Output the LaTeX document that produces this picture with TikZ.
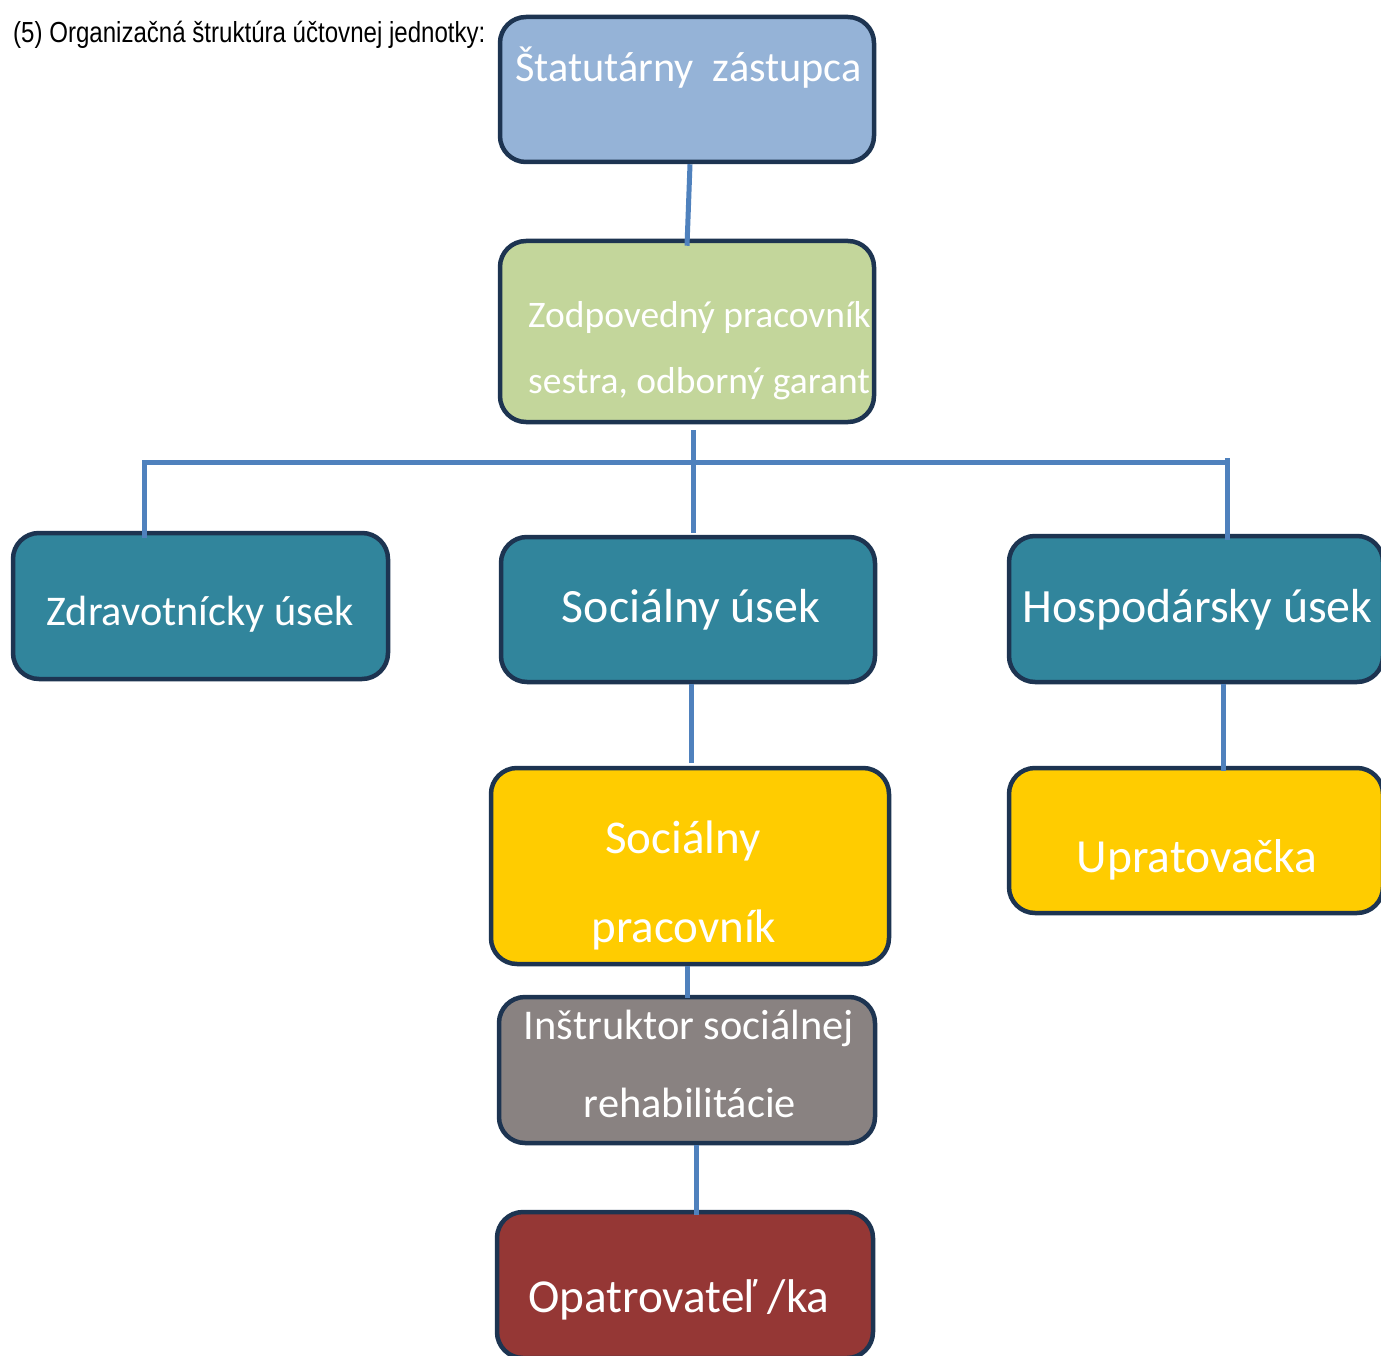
\documentclass[tikz,border=0pt]{standalone}
\usepackage{fontspec}
\setmainfont{Carlito}
\newfontfamily\titlefont[FakeStretch=0.83]{Liberation Sans}
\usetikzlibrary{calc}
\definecolor{bordc}{HTML}{1D3451}
\definecolor{linec}{HTML}{4F81BD}
\definecolor{cstat}{HTML}{95B3D7}
\definecolor{czod}{HTML}{C3D69B}
\definecolor{cteal}{HTML}{31859C}
\definecolor{cyel}{HTML}{FFCC00}
\definecolor{cgray}{HTML}{898281}
\definecolor{cred}{HTML}{953735}
\begin{document}
\begin{tikzpicture}[x=1pt,y=-1pt,
  box/.style={draw=bordc, line width=4.5pt, rounded corners=26pt, inner sep=0pt, anchor=center},
  lbl/.style={text=white, inner sep=0pt, anchor=base},
  lblw/.style={text=white, inner sep=0pt, anchor=base west},
  conn/.style={draw=linec, line width=5pt}]
\useasboundingbox (0,0) rectangle (1381,1356);
\clip (0,0) rectangle (1381,1356);
\fill[white] (0,0) rectangle (1381,1356);

% title
\node[anchor=base west, inner sep=0pt, font=\titlefont\fontsize{29}{34}\selectfont] (title) at (13,43) {(5) Organizačná štruktúra účtovnej jednotky:};

% boxes
\node[box, fill=cstat, minimum width=374pt, minimum height=145pt] (stat) at (687,89.5) {};
\node[box, fill=czod, minimum width=374pt, minimum height=181pt] (zod) at (687,331.5) {};
\node[box, fill=cteal, minimum width=375pt, minimum height=146pt] (zdr) at (200.5,606) {};
\node[box, fill=cteal, minimum width=374pt, minimum height=145pt] (soc) at (688,609.5) {};
\node[box, fill=cteal, minimum width=374pt, minimum height=146pt] (hosp) at (1196,609) {};
\node[box, fill=cyel, minimum width=398pt, minimum height=196pt] (socp) at (690,866) {};
\node[box, fill=cyel, minimum width=374pt, minimum height=145pt] (uprat) at (1196,840.5) {};
\node[box, fill=cgray, minimum width=376pt, minimum height=146pt] (instr) at (687,1070) {};
\node[box, fill=cred, minimum width=376pt, minimum height=146pt] (opat) at (685,1285) {};

% labels
\node[lbl, font=\fontsize{42.3}{50}\selectfont] (tstat) at (688.5,82) {Štatutárny~~zástupca};
\node[lblw, font=\fontsize{37.5}{44}\selectfont] (tzod1) at (528,327) {Zodpovedný pracovník};
\node[lblw, font=\fontsize{37.5}{44}\selectfont] (tzod2) at (528,393) {sestra, odborný garant};
\node[lbl, font=\fontsize{42.3}{50}\selectfont] (tzdr) at (200,625) {Zdravotnícky úsek};
\node[lbl, font=\fontsize{47.8}{56}\selectfont] (tsoc) at (691,622) {Sociálny úsek};
\node[lbl, font=\fontsize{47.8}{56}\selectfont] (thosp) at (1197.5,622) {Hospodársky úsek};
\node[lbl, font=\fontsize{47}{56}\selectfont] (tsocp1) at (683,853) {Sociálny};
\node[lbl, font=\fontsize{47}{56}\selectfont] (tsocp2) at (684,942) {pracovník};
\node[lbl, font=\fontsize{47.5}{55}\selectfont] (tuprat) at (1197,872) {Upratovačka};
\node[lbl, font=\fontsize{42.4}{50}\selectfont] (tinstr1) at (689,1039) {Inštruktor sociálnej};
\node[lbl, font=\fontsize{42.4}{50}\selectfont] (tinstr2) at (690,1117) {rehabilitácie};
\node[lblw, font=\fontsize{47.3}{55}\selectfont] (topat) at (528,1312) {Opatrovateľ /ka};

% connectors
\draw[conn] ($(stat.south)+(3,0)$) -- ($(zod.north)+(0,7)$);
\coordinate (hl) at (144,462);
\coordinate (hr) at (1227,462);
\draw[conn] (hl) -- (hr);
\draw[conn] ($(zod.south)+(6,6)$) -- ($(soc.north)+(5,-2)$);
\draw[conn] ($(hl)+(0,-2)$) -- ($(zdr.north -| hl)+(0,7)$);
\draw[conn] ($(hr)+(0,-4)$) -- ($(hosp.north -| hr)+(0,6)$);
\draw[conn] ($(soc.south)+(3,0)$) -- ($(socp.north)+(1,-3)$);
\draw[conn] ($(hosp.south)+(27,0)$) -- ($(uprat.north)+(27,5)$);
\draw[conn] ($(socp.south)+(-3,0)$) -- ($(instr.north)+(0,3)$);
\draw[conn] ($(instr.south)+(9,0)$) -- ($(opat.north)+(11,5)$);
\end{tikzpicture}
\end{document}
